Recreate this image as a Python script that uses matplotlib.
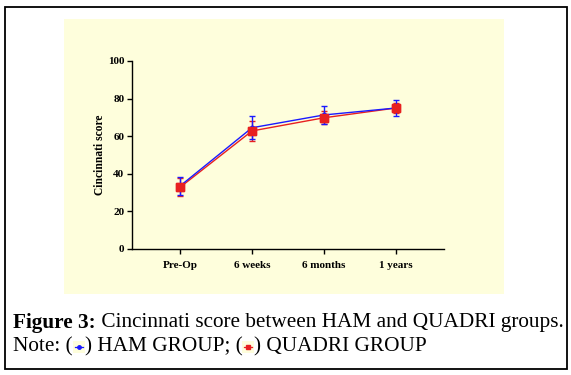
import matplotlib
matplotlib.use("Agg")
import matplotlib.pyplot as plt
from matplotlib.patches import Rectangle
from matplotlib.lines import Line2D

categories = ["Pre-Op", "6 weeks", "6 months", "1 years"]
ham_mean = [33.5, 64.5, 71.3, 75.0]
ham_err = [5.0, 6.0, 5.0, 4.2]
quadri_mean = [32.8, 62.8, 69.8, 75.0]
quadri_err = [4.8, 5.5, 3.5, 2.7]
y_ticks = [0, 20, 40, 60, 80, 100]

W, H = 571, 375
fig = plt.figure(figsize=(W / 100, H / 100), dpi=100)
fig.patch.set_facecolor("white")

def fx(px):
    return px / W

def fy(py):
    return 1 - py / H

# outer border
fig.patches.append(Rectangle((fx(5), fy(369)), fx(567) - fx(5), fy(7) - fy(369),
                             transform=fig.transFigure, fill=False, edgecolor="black",
                             linewidth=1.3, zorder=-1))
# cream panel
fig.patches.append(Rectangle((fx(64), fy(294)), fx(504) - fx(64), fy(19) - fy(294),
                             transform=fig.transFigure, facecolor="#FEFEDC",
                             edgecolor="none", zorder=-1))

ax = fig.add_axes([fx(132), fy(249), fx(444) - fx(132), fy(61) - fy(249)])
ax.set_zorder(5)
ax.set_facecolor("none")
x = list(range(len(categories)))

ax.errorbar(x, quadri_mean, yerr=quadri_err, color="#e82020", marker="s", markersize=5.5,
            linewidth=1.0, elinewidth=1.0, capsize=2.5, capthick=1.0, zorder=2)
ax.errorbar(x, ham_mean, yerr=ham_err, color="#1a1aff", marker="o", markersize=3.2,
            linewidth=1.0, elinewidth=1.0, capsize=2.5, capthick=1.0, zorder=3)
# red markers on top
ax.plot(x, quadri_mean, linestyle="none", marker="s", markersize=5.5, color="#e82020",
        zorder=4)

ax.set_xlim(-0.667, 3.667)
ax.set_ylim(0, 100)
ax.set_yticks(y_ticks)
ax.set_xticks(x)
ax.set_xticklabels(categories)
for s in ["top", "right"]:
    ax.spines[s].set_visible(False)
for s in ["left", "bottom"]:
    ax.spines[s].set_linewidth(1.0)
ax.tick_params(direction="out", length=3.5, width=1.0, pad=2)
for lab in ax.get_xticklabels() + ax.get_yticklabels():
    lab.set_fontfamily("Liberation Serif")
    lab.set_fontweight("bold")
    lab.set_fontsize(8)
ax.tick_params(axis="x", pad=5)
ax.set_ylabel("Cincinnati score", fontfamily="Liberation Serif", fontweight="bold",
              fontsize=8.3, labelpad=1)

# caption
fs = 15.3
fig.text(fx(13), fy(323), "Figure 3:", fontfamily="Liberation Serif", fontweight="bold",
         fontsize=fs, va="center", ha="left")
fig.canvas.draw()
r = fig.canvas.get_renderer()

def place(text, xpx, ypx, **kw):
    t = fig.text(fx(xpx), fy(ypx), text, fontfamily="Liberation Serif", fontsize=fs,
                 va="center", ha="left", **kw)
    bb = t.get_window_extent(renderer=r)
    return bb.x1

t0 = fig.texts[0].get_window_extent(renderer=r)
place(" Cincinnati score between HAM and QUADRI groups.", t0.x1, 323)

xp = 13
xp = place("Note: (", xp, 347)

def icon(xpx, color, marker, ms):
    w = 12
    fig.patches.append(Rectangle((fx(xpx), fy(353)), fx(w), 12 / H,
                                 transform=fig.transFigure, facecolor="#FEFEDC",
                                 edgecolor="none"))
    fig.lines.append(Line2D([fx(xpx + 2), fx(xpx + w - 2)], [fy(347), fy(347)],
                            transform=fig.transFigure, color=color, linewidth=0.9,
                            marker=None))
    fig.lines.append(Line2D([fx(xpx + w / 2)], [fy(347)], transform=fig.transFigure,
                            color=color, marker=marker, markersize=ms, linestyle="none"))
    return xpx + w

xp = icon(xp, "#1a1aff", "o", 2.5)
xp = place(") HAM GROUP; (", xp, 347)
xp = icon(xp, "#e82020", "s", 3.5)
place(") QUADRI GROUP", xp, 347)

fig.savefig("out.png", dpi=100)
